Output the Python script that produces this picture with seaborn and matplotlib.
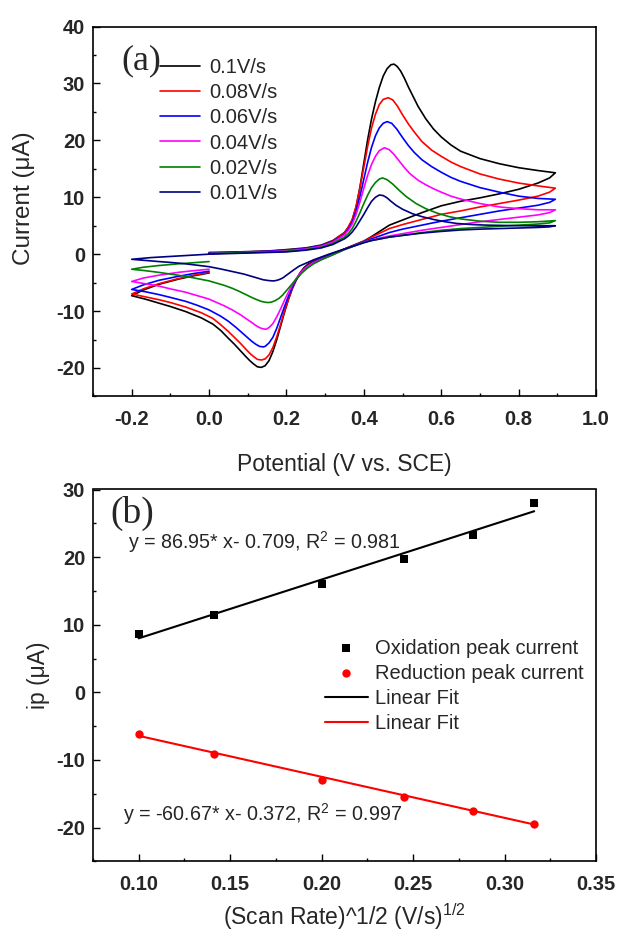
import matplotlib
matplotlib.use("Agg")
import matplotlib.pyplot as plt
import seaborn as sns
from matplotlib.ticker import MultipleLocator

# ---------------- Panel (a): cyclic voltammograms ----------------
scan_labels = ["0.1V/s", "0.08V/s", "0.06V/s", "0.04V/s", "0.02V/s", "0.01V/s"]
scan_colors = ["#000000", "#ff0000", "#0000ff", "#ff00ff", "#008000", "#000080"]

# 0.1 V/s : forward 0 -> 0.9, reverse 0.9 -> -0.2, forward -0.2 -> 0
cv_010_V = [0.00, 0.05, 0.10, 0.15, 0.20, 0.25, 0.29, 0.32, 0.35, 0.36, 0.37, 0.38, 0.39, 0.40, 0.41, 0.42, 0.43, 0.44, 0.45, 0.46, 0.47, 0.478, 0.486, 0.495, 0.505, 0.515, 0.526, 0.54, 0.56, 0.58, 0.60, 0.625, 0.65, 0.70, 0.75, 0.80, 0.85, 0.895,
            0.88, 0.85, 0.80, 0.75, 0.70, 0.65, 0.60, 0.55, 0.50, 0.466, 0.42, 0.40, 0.35, 0.31, 0.29, 0.27, 0.255, 0.245, 0.235, 0.225, 0.215, 0.205, 0.195, 0.185, 0.175, 0.165, 0.155, 0.145, 0.135, 0.125, 0.115, 0.105, 0.095, 0.08, 0.065, 0.05, 0.03, 0.01, -0.02, -0.06, -0.10, -0.13, -0.165, -0.20,
            -0.17, -0.13, -0.08, -0.04, 0.00]
cv_010_I = [0.3, 0.35, 0.45, 0.55, 0.8, 1.1, 1.6, 2.4, 3.8, 4.7, 6.0, 8.3, 11.8, 16.0, 20.2, 23.8, 26.8, 29.3, 31.3, 32.6, 33.3, 33.4, 33.0, 32.2, 30.9, 29.4, 27.9, 26.0, 23.8, 22.0, 20.6, 19.2, 18.1, 16.8, 15.9, 15.2, 14.7, 14.3,
            13.4, 12.5, 11.4, 10.6, 9.9, 9.3, 8.5, 7.3, 6.0, 5.1, 3.1, 2.3, 0.9, -0.1, -0.6, -1.2, -1.8, -2.4, -3.3, -4.5, -6.1, -8.0, -10.2, -12.6, -15.0, -17.1, -18.7, -19.6, -19.9, -19.8, -19.3, -18.7, -18.0, -16.9, -15.8, -14.8, -13.4, -12.3, -11.2, -10.1, -9.2, -8.6, -7.9, -7.3,
            -6.3, -5.3, -4.4, -3.8, -3.3]
# 0.08 V/s
cv_008_V = [0.00, 0.05, 0.10, 0.15, 0.20, 0.25, 0.29, 0.32, 0.35, 0.36, 0.37, 0.38, 0.39, 0.40, 0.41, 0.42, 0.43, 0.44, 0.45, 0.463, 0.475, 0.487, 0.50, 0.515, 0.53, 0.55, 0.575, 0.60, 0.625, 0.65, 0.70, 0.75, 0.80, 0.85, 0.895,
            0.88, 0.85, 0.80, 0.75, 0.70, 0.65, 0.60, 0.55, 0.50, 0.466, 0.42, 0.40, 0.35, 0.31, 0.29, 0.27, 0.255, 0.245, 0.235, 0.225, 0.215, 0.205, 0.195, 0.185, 0.175, 0.165, 0.155, 0.145, 0.136, 0.125, 0.115, 0.105, 0.095, 0.08, 0.065, 0.05, 0.03, 0.01, -0.02, -0.06, -0.10, -0.13, -0.165, -0.20,
            -0.17, -0.13, -0.08, -0.04, 0.00]
cv_008_I = [0.2, 0.3, 0.4, 0.5, 0.7, 1.0, 1.5, 2.3, 3.8, 4.8, 6.1, 8.4, 11.7, 15.3, 19.0, 22.2, 24.6, 26.3, 27.2, 27.5, 27.1, 26.0, 24.5, 22.9, 21.5, 19.8, 18.3, 17.2, 16.2, 15.4, 14.1, 13.2, 12.5, 12.0, 11.6,
            10.9, 10.2, 9.5, 8.9, 8.3, 7.6, 7.0, 6.1, 5.2, 4.5, 3.0, 2.3, 0.9, -0.2, -0.7, -1.3, -2.0, -2.6, -3.4, -4.6, -6.0, -7.9, -10.0, -12.3, -14.5, -16.4, -17.7, -18.4, -18.6, -18.5, -18.0, -17.4, -16.7, -15.6, -14.6, -13.6, -12.4, -11.3, -10.3, -9.3, -8.5, -8.0, -7.5, -7.0,
            -6.1, -5.2, -4.3, -3.7, -3.2]
# 0.06 V/s
cv_006_V = [0.00, 0.05, 0.10, 0.15, 0.20, 0.25, 0.29, 0.32, 0.35, 0.36, 0.37, 0.38, 0.39, 0.40, 0.41, 0.42, 0.43, 0.44, 0.45, 0.46, 0.472, 0.485, 0.50, 0.515, 0.53, 0.55, 0.575, 0.60, 0.625, 0.65, 0.70, 0.75, 0.80, 0.85, 0.895,
            0.88, 0.85, 0.80, 0.75, 0.70, 0.65, 0.60, 0.55, 0.50, 0.466, 0.42, 0.40, 0.35, 0.31, 0.29, 0.27, 0.255, 0.245, 0.235, 0.225, 0.215, 0.205, 0.195, 0.185, 0.175, 0.165, 0.155, 0.145, 0.14, 0.13, 0.12, 0.11, 0.10, 0.085, 0.07, 0.05, 0.03, 0.00, -0.03, -0.06, -0.10, -0.13, -0.165, -0.20,
            -0.17, -0.13, -0.08, -0.04, 0.00]
cv_006_I = [0.2, 0.3, 0.4, 0.5, 0.7, 1.0, 1.5, 2.2, 3.5, 4.4, 5.6, 7.6, 10.2, 13.2, 16.2, 18.8, 20.8, 22.2, 23.0, 23.3, 23.0, 22.0, 20.5, 19.1, 17.9, 16.6, 15.4, 14.4, 13.5, 12.8, 11.7, 10.9, 10.2, 9.8, 9.65,
            9.1, 8.6, 8.1, 7.6, 7.0, 6.4, 5.8, 5.1, 4.4, 3.8, 2.7, 2.2, 0.9, -0.3, -0.8, -1.4, -2.1, -2.7, -3.5, -4.5, -5.8, -7.4, -9.2, -11.1, -13.0, -14.6, -15.6, -16.2, -16.3, -16.2, -15.8, -15.3, -14.7, -13.8, -12.9, -11.8, -10.9, -9.8, -9.0, -8.3, -7.6, -7.1, -6.6, -6.2,
            -5.4, -4.6, -3.9, -3.4, -3.0]
# 0.04 V/s
cv_004_V = [0.00, 0.05, 0.10, 0.15, 0.20, 0.25, 0.29, 0.32, 0.35, 0.36, 0.37, 0.38, 0.39, 0.40, 0.41, 0.42, 0.43, 0.44, 0.453, 0.465, 0.477, 0.49, 0.505, 0.52, 0.54, 0.56, 0.58, 0.60, 0.625, 0.65, 0.70, 0.75, 0.80, 0.85, 0.895,
            0.88, 0.85, 0.80, 0.75, 0.70, 0.65, 0.60, 0.55, 0.50, 0.466, 0.42, 0.40, 0.35, 0.31, 0.29, 0.27, 0.255, 0.245, 0.235, 0.225, 0.215, 0.205, 0.195, 0.185, 0.175, 0.165, 0.155, 0.147, 0.138, 0.13, 0.12, 0.11, 0.095, 0.08, 0.06, 0.04, 0.02, 0.00, -0.03, -0.06, -0.10, -0.13, -0.165, -0.20,
            -0.17, -0.13, -0.08, -0.04, 0.00]
cv_004_I = [0.1, 0.2, 0.3, 0.4, 0.6, 0.9, 1.4, 2.1, 3.4, 4.2, 5.3, 7.0, 9.2, 11.6, 13.9, 15.8, 17.2, 18.2, 18.7, 18.4, 17.6, 16.5, 15.2, 14.1, 13.0, 12.2, 11.5, 10.9, 10.2, 9.7, 8.9, 8.3, 8.0, 7.8, 7.8,
            7.3, 6.9, 6.5, 6.1, 5.7, 5.2, 4.7, 4.2, 3.6, 3.2, 2.5, 2.1, 0.8, -0.4, -0.9, -1.5, -2.1, -2.7, -3.4, -4.3, -5.4, -6.7, -8.1, -9.6, -11.0, -12.2, -12.9, -13.2, -13.1, -12.9, -12.5, -12.0, -11.3, -10.6, -9.8, -9.1, -8.5, -7.9, -7.3, -6.7, -6.1, -5.6, -5.2, -4.8,
            -4.2, -3.7, -3.2, -2.9, -2.65]
# 0.02 V/s
cv_002_V = [0.00, 0.05, 0.10, 0.15, 0.20, 0.25, 0.29, 0.32, 0.35, 0.36, 0.37, 0.38, 0.39, 0.40, 0.41, 0.42, 0.43, 0.44, 0.448, 0.46, 0.475, 0.49, 0.51, 0.535, 0.56, 0.59, 0.62, 0.65, 0.70, 0.75, 0.80, 0.85, 0.895,
            0.88, 0.85, 0.80, 0.75, 0.70, 0.65, 0.60, 0.55, 0.50, 0.466, 0.42, 0.40, 0.35, 0.31, 0.29, 0.27, 0.255, 0.24, 0.225, 0.21, 0.20, 0.19, 0.18, 0.17, 0.16, 0.153, 0.145, 0.135, 0.12, 0.11, 0.095, 0.08, 0.06, 0.04, 0.02, 0.00, -0.03, -0.06, -0.10, -0.13, -0.165, -0.20,
            -0.17, -0.13, -0.08, -0.04, 0.00]
cv_002_I = [0.1, 0.2, 0.3, 0.35, 0.5, 0.8, 1.2, 1.9, 3.0, 3.6, 4.5, 5.8, 7.3, 8.9, 10.4, 11.7, 12.6, 13.2, 13.4, 13.1, 12.3, 11.3, 10.1, 8.9, 8.0, 7.2, 6.6, 6.2, 5.8, 5.6, 5.6, 5.7, 5.9,
            5.5, 5.3, 5.1, 4.9, 4.7, 4.5, 4.2, 3.8, 3.3, 3.0, 2.4, 2.1, 0.8, -0.4, -1.0, -1.7, -2.4, -3.3, -4.4, -5.6, -6.4, -7.2, -7.8, -8.2, -8.45, -8.5, -8.45, -8.3, -7.9, -7.6, -7.1, -6.6, -6.0, -5.5, -5.1, -4.7, -4.3, -3.9, -3.5, -3.2, -2.9, -2.65,
            -2.3, -2.0, -1.7, -1.5, -1.3]
# 0.01 V/s
cv_001_V = [0.00, 0.05, 0.10, 0.15, 0.20, 0.25, 0.29, 0.32, 0.35, 0.36, 0.37, 0.38, 0.39, 0.40, 0.41, 0.42, 0.43, 0.44, 0.45, 0.46, 0.47, 0.483, 0.50, 0.526, 0.55, 0.58, 0.61, 0.64, 0.68, 0.72, 0.80, 0.895,
            0.88, 0.85, 0.80, 0.75, 0.70, 0.65, 0.60, 0.55, 0.50, 0.466, 0.42, 0.40, 0.35, 0.31, 0.29, 0.27, 0.25, 0.233, 0.22, 0.21, 0.20, 0.19, 0.18, 0.172, 0.166, 0.155, 0.14, 0.125, 0.11, 0.09, 0.07, 0.05, 0.03, 0.00, -0.03, -0.06, -0.10, -0.13, -0.165, -0.20,
            -0.15, -0.10, -0.05, 0.00]
cv_001_I = [0.0, 0.1, 0.2, 0.3, 0.4, 0.7, 1.1, 1.7, 2.7, 3.2, 3.9, 4.8, 5.9, 7.0, 8.2, 9.3, 10.0, 10.4, 10.3, 9.9, 9.3, 8.6, 7.9, 7.1, 6.6, 6.1, 5.7, 5.4, 5.2, 5.1, 5.0, 5.0,
            4.8, 4.7, 4.6, 4.5, 4.4, 4.25, 4.0, 3.7, 3.3, 3.0, 2.4, 2.0, 0.9, 0.0, -0.5, -1.0, -1.6, -2.1, -2.7, -3.2, -3.7, -4.2, -4.5, -4.65, -4.7, -4.65, -4.5, -4.2, -3.9, -3.5, -3.2, -2.9, -2.6, -2.2, -1.95, -1.7, -1.45, -1.3, -1.1, -0.9,
            -0.6, -0.4, -0.2, 0.0]

cv_potentials = [cv_010_V, cv_008_V, cv_006_V, cv_004_V, cv_002_V, cv_001_V]
cv_currents = [cv_010_I, cv_008_I, cv_006_I, cv_004_I, cv_002_I, cv_001_I]

# ---------------- Panel (b): peak current vs sqrt(scan rate) ----------------
sqrt_rate = [0.1000, 0.1414, 0.2000, 0.2449, 0.2828, 0.3162]
ox_peak = [8.6, 11.4, 16.0, 19.7, 23.2, 28.0]
red_peak = [-6.2, -9.2, -12.9, -15.5, -17.6, -19.5]
ox_fit = (86.95, -0.709)
red_fit = (-60.67, -0.372)
ox_eq = r"y = 86.95* x- 0.709, R$^\mathregular{2}$ = 0.981"
red_eq = r"y = -60.67* x- 0.372, R$^\mathregular{2}$ = 0.997"

# ---------------- style ----------------
sns.set_theme(style="white")
plt.rcParams["font.family"] = ["Liberation Sans", "DejaVu Sans"]
plt.rcParams["mathtext.fontset"] = "custom"
plt.rcParams["mathtext.rm"] = "Liberation Sans"
plt.rcParams["mathtext.it"] = "Liberation Sans:italic"
plt.rcParams["mathtext.bf"] = "Liberation Sans:bold"
plt.rcParams["axes.unicode_minus"] = False

W, H = 618, 933
fig = plt.figure(figsize=(W / 100, H / 100), dpi=100)
ax1 = fig.add_axes([93 / W, 1 - 396.4 / H, 503 / W, 369.8 / H])
ax2 = fig.add_axes([93 / W, 1 - 861.3 / H, 503 / W, 371.8 / H])

TICK_FS = 14.5
LABEL_FS = 16.5
LEG_FS = 14.5
EQ_FS = 14.2

for V, I, lab, col in zip(cv_potentials, cv_currents, scan_labels, scan_colors):
    sns.lineplot(x=V, y=I, sort=False, estimator=None, color=col, lw=1.2,
                 label=lab, ax=ax1)

ax1.set_xlim(-0.3, 1.0)
ax1.set_ylim(-25, 40)
ax1.xaxis.set_major_locator(MultipleLocator(0.2))
ax1.xaxis.set_minor_locator(MultipleLocator(0.1))
ax1.yaxis.set_major_locator(MultipleLocator(10))
ax1.yaxis.set_minor_locator(MultipleLocator(5))
ax1.legend(loc="upper left", bbox_to_anchor=(0.133, 0.914), frameon=False,
           fontsize=LEG_FS, handlelength=2.0, handletextpad=0.45,
           labelspacing=0.3, borderpad=0, borderaxespad=0)
ax1.set_xlabel("Potential (V vs. SCE)", fontsize=LABEL_FS)
ax1.set_ylabel("Current (\u03bcA)", fontsize=17.5)
ax1.xaxis.set_label_coords(0.5, -0.1525)
ax1.yaxis.set_label_coords(-0.115, 0.535)
ax1.text(0.0954, 0.908, "(a)", transform=ax1.transAxes, ha="center", va="center",
         fontsize=26, family="Liberation Serif")

# panel b
sns.scatterplot(x=sqrt_rate, y=ox_peak, marker="s", color="black", s=40,
                linewidth=0, label="Oxidation peak current", ax=ax2)
sns.scatterplot(x=sqrt_rate, y=red_peak, marker="o", color="red", s=36,
                linewidth=0, label="Reduction peak current", ax=ax2)
ox_line = [ox_fit[0] * x + ox_fit[1] for x in sqrt_rate]
red_line = [red_fit[0] * x + red_fit[1] for x in sqrt_rate]
sns.lineplot(x=sqrt_rate, y=ox_line, color="black", lw=1.5, label="Linear Fit", ax=ax2)
sns.lineplot(x=sqrt_rate, y=red_line, color="red", lw=1.5, label="Linear Fit", ax=ax2)

ax2.set_xlim(0.075, 0.35)
ax2.set_ylim(-25, 30)
ax2.xaxis.set_major_locator(MultipleLocator(0.05))
ax2.xaxis.set_minor_locator(MultipleLocator(0.025))
ax2.yaxis.set_major_locator(MultipleLocator(10))
ax2.yaxis.set_minor_locator(MultipleLocator(5))
ax2.legend(loc="upper left", bbox_to_anchor=(0.461, 0.599), frameon=False,
           fontsize=LEG_FS, handlelength=2.14, handletextpad=0.35,
           labelspacing=0.3, borderpad=0, borderaxespad=0)
ax2.set_xlabel(r"(Scan Rate)^1/2 (V/s)$^\mathregular{1/2}$", fontsize=LABEL_FS)
ax2.set_ylabel("ip (\u03bcA)", fontsize=LABEL_FS)
ax2.xaxis.set_label_coords(0.5, -0.108)
ax2.yaxis.set_label_coords(-0.085, 0.5)
ax2.text(0.069, 0.86, ox_eq, transform=ax2.transAxes, ha="left", va="center", fontsize=EQ_FS)
ax2.text(0.059, 0.127, red_eq, transform=ax2.transAxes, ha="left", va="center", fontsize=EQ_FS)
ax2.text(0.0775, 0.935, "(b)", transform=ax2.transAxes, ha="center", va="center",
         fontsize=27, family="Liberation Serif")

for ax in (ax1, ax2):
    for sp in ax.spines.values():
        sp.set_color("black")
        sp.set_linewidth(1.2)
        sp.set_visible(True)
    ax.tick_params(which="both", direction="in", bottom=True, left=True,
                   top=False, right=False, color="black", width=1.0)
    ax.tick_params(which="major", length=5)
    ax.tick_params(which="minor", length=2.5)
    ax.tick_params(axis="x", which="major", pad=10, labelsize=TICK_FS)
    ax.tick_params(axis="y", which="major", pad=5.5, labelsize=TICK_FS)
    plt.setp(ax.get_xticklabels(), fontweight="bold")
    plt.setp(ax.get_yticklabels(), fontweight="bold")
    ax.grid(False)

fig.savefig("out.png", dpi=100)
